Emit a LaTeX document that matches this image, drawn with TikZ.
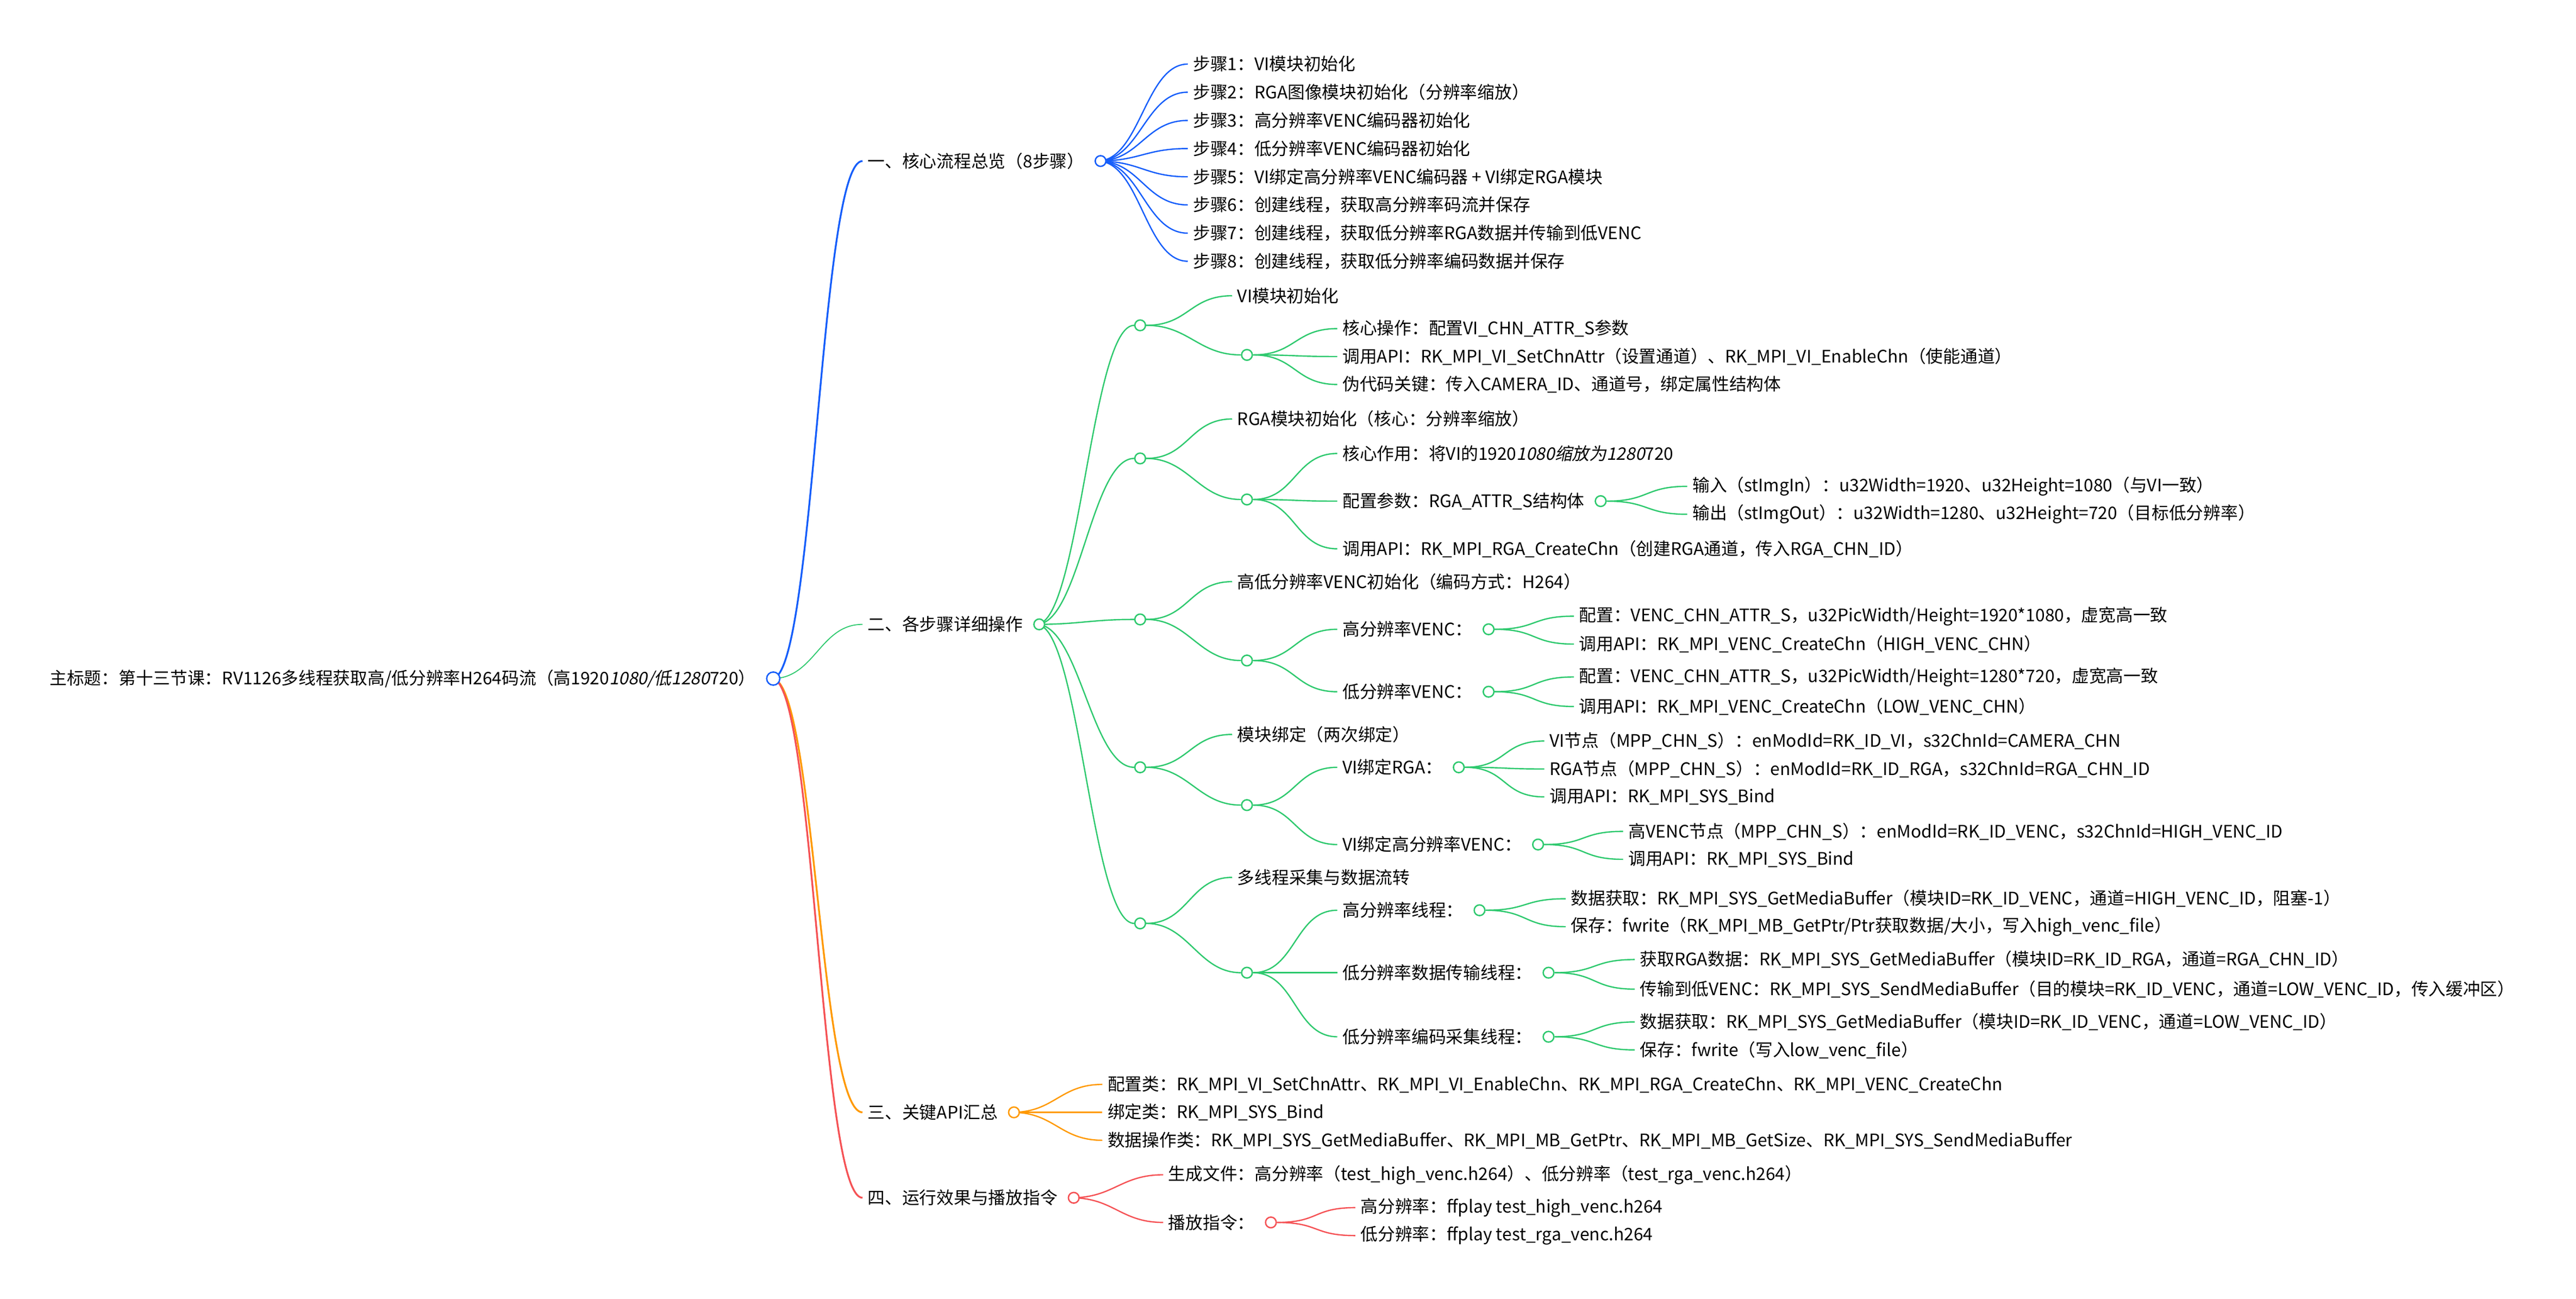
\documentclass[tikz,border=0pt]{standalone}
\usepackage{fontspec}
\setmainfont{Noto Sans CJK SC}[RawFeature=+chws, ItalicFont=Noto Sans CJK SC, ItalicFeatures={FakeSlant=0.2}]
\usepackage{tikz}
\usetikzlibrary{positioning}
\definecolor{mapblue}{RGB}{22,94,250}
\definecolor{mapgreen}{RGB}{46,201,110}
\definecolor{maporange}{RGB}{255,153,0}
\definecolor{mapred}{RGB}{245,82,85}

\begin{document}
\begin{tikzpicture}[x=1pt, y=-1pt,
      txt/.style={anchor=west, inner sep=3pt, font=\fontsize{10.5}{12}\selectfont},
      dot/.style={circle, draw, fill=white, line width=0.85pt, minimum size=6.5pt, inner sep=0pt},
      link/.style={line width=0.8pt, to path={.. controls +(26,0) and +(-26,0) .. (\tikztotarget)}},
      bl/.style={link, draw=mapblue},
      gr/.style={link, draw=mapgreen},
      og/.style={link, draw=maporange},
      rd/.style={link, draw=mapred},
    ]
    \useasboundingbox (0,0) rectangle (1568,790.6);

    % Root
    \node[txt] (root) at (27,413) {主标题：第十三节课：RV1126多线程获取高/低分辨率H264码流（高1920\textit{1080/低1280}720）};

    % Level 1
    \node[txt] (overview) at (525,98) {一、核心流程总览（8步骤）};
    \node[txt] (details) at (525,380) {二、各步骤详细操作};
    \node[txt] (apis) at (525,677) {三、关键API汇总};
    \node[txt] (run) at (525,729) {四、运行效果与播放指令};

    % Steps
    \node[txt] (step1) at (723,39) {步骤1：VI模块初始化};
    \node[txt] (step2) at (723,56.1) {步骤2：RGA图像模块初始化（分辨率缩放）};
    \node[txt] (step3) at (723,73.3) {步骤3：高分辨率VENC编码器初始化};
    \node[txt] (step4) at (723,90.4) {步骤4：低分辨率VENC编码器初始化};
    \node[txt] (step5) at (723,107.6) {步骤5：VI绑定高分辨率VENC编码器 + VI绑定RGA模块};
    \node[txt] (step6) at (723,124.7) {步骤6：创建线程，获取高分辨率码流并保存};
    \node[txt] (step7) at (723,141.9) {步骤7：创建线程，获取低分辨率RGA数据并传输到低VENC};
    \node[txt] (step8) at (723,159) {步骤8：创建线程，获取低分辨率编码数据并保存};

    % VI
    \node[txt] (vititle) at (750,180) {VI模块初始化};
    \node[txt] (vicore) at (814,200) {核心操作：配置VI\_CHN\_ATTR\_S参数};
    \node[txt] (viapi) at (814,217) {调用API：RK\_MPI\_VI\_SetChnAttr（设置通道）、RK\_MPI\_VI\_EnableChn（使能通道）};
    \node[txt] (vicode) at (814,234) {伪代码关键：传入CAMERA\_ID、通道号，绑定属性结构体};

    % RGA
    \node[txt] (rgatitle) at (750,255) {RGA模块初始化（核心：分辨率缩放）};
    \node[txt] (rgacore) at (814,276) {核心作用：将VI的1920\textit{1080缩放为1280}720};
    \node[txt] (rgaparam) at (814,305) {配置参数：RGA\_ATTR\_S结构体};
    \node[txt] (rgain) at (1027,296) {输入（stImgIn）：u32Width=1920、u32Height=1080（与VI一致）};
    \node[txt] (rgaout) at (1027,313) {输出（stImgOut）：u32Width=1280、u32Height=720（目标低分辨率）};
    \node[txt] (rgaapi) at (814,334) {调用API：RK\_MPI\_RGA\_CreateChn（创建RGA通道，传入RGA\_CHN\_ID）};

    % VENC
    \node[txt] (venctitle) at (750,354) {高低分辨率VENC初始化（编码方式：H264）};
    \node[txt] (venchigh) at (814,383) {高分辨率VENC：};
    \node[txt] (highcfg) at (958,375) {配置：VENC\_CHN\_ATTR\_S，u32PicWidth/Height=1920*1080，虚宽高一致};
    \node[txt] (highapi) at (958,392) {调用API：RK\_MPI\_VENC\_CreateChn（HIGH\_VENC\_CHN）};
    \node[txt] (venclow) at (814,421) {低分辨率VENC：};
    \node[txt] (lowcfg) at (958,412) {配置：VENC\_CHN\_ATTR\_S，u32PicWidth/Height=1280*720，虚宽高一致};
    \node[txt] (lowapi) at (958,430) {调用API：RK\_MPI\_VENC\_CreateChn（LOW\_VENC\_CHN）};

    % Bind
    \node[txt] (bindtitle) at (750,447) {模块绑定（两次绑定）};
    \node[txt] (bindrga) at (814,467) {VI绑定RGA：};
    \node[txt] (vinode) at (940,451) {VI节点（MPP\_CHN\_S）：enModId=RK\_ID\_VI，s32ChnId=CAMERA\_CHN};
    \node[txt] (rganode) at (940,468) {RGA节点（MPP\_CHN\_S）：enModId=RK\_ID\_RGA，s32ChnId=RGA\_CHN\_ID};
    \node[txt] (bindapi1) at (940,485) {调用API：RK\_MPI\_SYS\_Bind};
    \node[txt] (bindvenc) at (814,514) {VI绑定高分辨率VENC：};
    \node[txt] (vencnode) at (988,506) {高VENC节点（MPP\_CHN\_S）：enModId=RK\_ID\_VENC，s32ChnId=HIGH\_VENC\_ID};
    \node[txt] (bindapi2) at (988,523) {调用API：RK\_MPI\_SYS\_Bind};

    % Threads
    \node[txt] (thrtitle) at (750,534) {多线程采集与数据流转};
    \node[txt] (thrhigh) at (814,554) {高分辨率线程：};
    \node[txt] (hget) at (953,547) {数据获取：RK\_MPI\_SYS\_GetMediaBuffer（模块ID=RK\_ID\_VENC，通道=HIGH\_VENC\_ID，阻塞-1）};
    \node[txt] (hsave) at (953,564) {保存：fwrite（RK\_MPI\_MB\_GetPtr/Ptr获取数据/大小，写入high\_venc\_file）};
    \node[txt] (thrsend) at (814,592) {低分辨率数据传输线程：};
    \node[txt] (sget) at (995,584) {获取RGA数据：RK\_MPI\_SYS\_GetMediaBuffer（模块ID=RK\_ID\_RGA，通道=RGA\_CHN\_ID）};
    \node[txt] (sput) at (995,602) {传输到低VENC：RK\_MPI\_SYS\_SendMediaBuffer（目的模块=RK\_ID\_VENC，通道=LOW\_VENC\_ID，传入缓冲区）};
    \node[txt] (thrlow) at (814,631) {低分辨率编码采集线程：};
    \node[txt] (lget) at (995,622) {数据获取：RK\_MPI\_SYS\_GetMediaBuffer（模块ID=RK\_ID\_VENC，通道=LOW\_VENC\_ID）};
    \node[txt] (lsave) at (995,639) {保存：fwrite（写入low\_venc\_file）};

    % APIs
    \node[txt] (apicfg) at (671,660) {配置类：RK\_MPI\_VI\_SetChnAttr、RK\_MPI\_VI\_EnableChn、RK\_MPI\_RGA\_CreateChn、RK\_MPI\_VENC\_CreateChn};
    \node[txt] (apibind) at (671,677) {绑定类：RK\_MPI\_SYS\_Bind};
    \node[txt] (apidata) at (671,694) {数据操作类：RK\_MPI\_SYS\_GetMediaBuffer、RK\_MPI\_MB\_GetPtr、RK\_MPI\_MB\_GetSize、RK\_MPI\_SYS\_SendMediaBuffer};

    % Run
    \node[txt] (files) at (708,715) {生成文件：高分辨率（test\_high\_venc.h264）、低分辨率（test\_rga\_venc.h264）};
    \node[txt] (play) at (708,744) {播放指令：};
    \node[txt] (playhigh) at (825,735) {高分辨率：ffplay test\_high\_venc.h264};
    \node[txt] (playlow) at (825,752) {低分辨率：ffplay test\_rga\_venc.h264};

    % Links
    \draw[bl, line width=1.1pt] (470,413) to (overview.west);
    \draw[gr, line width=0.6pt] (470,413) to (details.west);
    \draw[og, line width=1.1pt] (470,413) to (apis.west);
    \draw[rd, line width=1.1pt] (470,413) to (run.west);

    \draw[bl] (668,98) to (step1.west);
    \draw[bl] (668,98) to (step2.west);
    \draw[bl] (668,98) to (step3.west);
    \draw[bl] (668,98) to (step4.west);
    \draw[bl] (668,98) to (step5.west);
    \draw[bl] (668,98) to (step6.west);
    \draw[bl] (668,98) to (step7.west);
    \draw[bl] (668,98) to (step8.west);

    \node[dot, draw=mapgreen] (vigrp) at (694,198) {};
    \node[dot, draw=mapgreen] (rgagrp) at (694,279) {};
    \node[dot, draw=mapgreen] (vencgrp) at (694,377) {};
    \node[dot, draw=mapgreen] (bindgrp) at (694,467) {};
    \node[dot, draw=mapgreen] (thrgrp) at (694,562) {};
    \node[dot, draw=mapgreen] (visub) at (759,216) {};
    \node[dot, draw=mapgreen] (rgasub) at (759,304) {};
    \node[dot, draw=mapgreen] (vencsub) at (759,402) {};
    \node[dot, draw=mapgreen] (bindsub) at (759,490) {};
    \node[dot, draw=mapgreen] (thrsub) at (759,592) {};

    \draw[gr] (631,380) to (vigrp.west);
    \draw[gr] (631,380) to (rgagrp.west);
    \draw[gr] (631,380) to (vencgrp.west);
    \draw[gr] (631,380) to (bindgrp.west);
    \draw[gr] (631,380) to (thrgrp.west);

    \draw[gr] (vigrp.east) to (vititle.west);
    \draw[gr] (vigrp.east) to (visub.west);
    \draw[gr] (visub.east) to (vicore.west);
    \draw[gr] (visub.east) to (viapi.west);
    \draw[gr] (visub.east) to (vicode.west);

    \draw[gr] (rgagrp.east) to (rgatitle.west);
    \draw[gr] (rgagrp.east) to (rgasub.west);
    \draw[gr] (rgasub.east) to (rgacore.west);
    \draw[gr] (rgasub.east) to (rgaparam.west);
    \draw[gr] (rgasub.east) to (rgaapi.west);

    \draw[gr] (vencgrp.east) to (venctitle.west);
    \draw[gr] (vencgrp.east) to (vencsub.west);
    \draw[gr] (vencsub.east) to (venchigh.west);
    \draw[gr] (vencsub.east) to (venclow.west);

    \draw[gr] (bindgrp.east) to (bindtitle.west);
    \draw[gr] (bindgrp.east) to (bindsub.west);
    \draw[gr] (bindsub.east) to (bindrga.west);
    \draw[gr] (bindsub.east) to (bindvenc.west);

    \draw[gr] (thrgrp.east) to (thrtitle.west);
    \draw[gr] (thrgrp.east) to (thrsub.west);
    \draw[gr] (thrsub.east) to (thrhigh.west);
    \draw[gr] (thrsub.east) to (thrsend.west);
    \draw[gr] (thrsub.east) to (thrlow.west);

    % Leaf dots
    \node[dot, draw=mapgreen, right=3pt of rgaparam] (rgaparamdot) {};
    \node[dot, draw=mapgreen, right=3pt of venchigh] (venchighdot) {};
    \node[dot, draw=mapgreen, right=3pt of venclow] (venclowdot) {};
    \node[dot, draw=mapgreen, right=3pt of bindrga] (bindrgadot) {};
    \node[dot, draw=mapgreen, right=3pt of bindvenc] (bindvencdot) {};
    \node[dot, draw=mapgreen, right=3pt of thrhigh] (thrhighdot) {};
    \node[dot, draw=mapgreen, right=3pt of thrsend] (thrsenddot) {};
    \node[dot, draw=mapgreen, right=3pt of thrlow] (thrlowdot) {};
    \node[dot, draw=mapred, right=3pt of play] (playdot) {};

    \draw[gr] (rgaparamdot.east) to (rgain.west);
    \draw[gr] (rgaparamdot.east) to (rgaout.west);
    \draw[gr] (venchighdot.east) to (highcfg.west);
    \draw[gr] (venchighdot.east) to (highapi.west);
    \draw[gr] (venclowdot.east) to (lowcfg.west);
    \draw[gr] (venclowdot.east) to (lowapi.west);
    \draw[gr] (bindrgadot.east) to (vinode.west);
    \draw[gr] (bindrgadot.east) to (rganode.west);
    \draw[gr] (bindrgadot.east) to (bindapi1.west);
    \draw[gr] (bindvencdot.east) to (vencnode.west);
    \draw[gr] (bindvencdot.east) to (bindapi2.west);
    \draw[gr] (thrhighdot.east) to (hget.west);
    \draw[gr] (thrhighdot.east) to (hsave.west);
    \draw[gr] (thrsenddot.east) to (sget.west);
    \draw[gr] (thrsenddot.east) to (sput.west);
    \draw[gr] (thrlowdot.east) to (lget.west);
    \draw[gr] (thrlowdot.east) to (lsave.west);

    \draw[og] (616,677) to (apicfg.west);
    \draw[og] (616,677) to (apibind.west);
    \draw[og] (616,677) to (apidata.west);

    \draw[rd] (652,729) to (files.west);
    \draw[rd] (652,729) to (play.west);
    \draw[rd] (playdot.east) to (playhigh.west);
    \draw[rd] (playdot.east) to (playlow.west);

    % Level dots
    \node[dot, draw=mapblue, minimum size=8pt, right=3pt of root] (rootdot) {};
    \node[dot, draw=mapblue, right=3pt of overview] (overviewdot) {};
    \node[dot, draw=mapgreen, right=3pt of details] (detailsdot) {};
    \node[dot, draw=maporange, right=3pt of apis] (apisdot) {};
    \node[dot, draw=mapred, right=3pt of run] (rundot) {};
  \end{tikzpicture}
\end{document}
